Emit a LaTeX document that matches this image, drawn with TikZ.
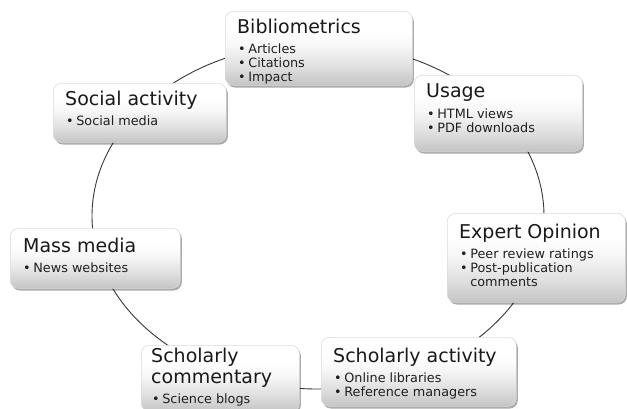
\documentclass[tikz,border=0pt]{standalone}
\usepackage{fontspec}
\setmainfont{DejaVu Sans}
\usetikzlibrary{shadows}
\pgfdeclareverticalshading{boxshade}{100bp}{color(0bp)=(black!23); color(25bp)=(black!23); color(38bp)=(black!12); color(52bp)=(black!3); color(62bp)=(white); color(100bp)=(white)}
\tikzset{
  box/.style={rectangle, rounded corners=8pt, draw=black!14, line width=0.6pt,
    shading=boxshade, inner sep=0pt, anchor=north west,
    drop shadow={shadow xshift=1.5pt, shadow yshift=-2.2pt, opacity=0.33, fill=black}},
  ttl/.style={anchor=base west, inner sep=0pt, text=black!90,
    font=\fontsize{19}{21}\selectfont},
  itm/.style={anchor=base west, inner sep=0pt, text=black!88,
    font=\fontsize{12.8}{14.3}\selectfont},
  ring/.style={draw=black!78, line width=0.9pt}
}
\newcommand{\blist}[1]{\begin{tabular}[t]{@{}l@{\hspace{2.6pt}}l@{}}#1\end{tabular}}
\begin{document}
\begin{tikzpicture}[x=1pt,y=-1pt]
\useasboundingbox (0,0) rectangle (627,408);
\coordinate (c) at (318,216);
\draw[ring] (c) ellipse [x radius=226, y radius=173];

% Bibliometrics
\node[box, minimum width=187pt, minimum height=74pt] (bib) at (225,11) {};
\node[ttl] (bibT) at (237,33) {Bibliometrics};
\node[itm] (bibL) at (238,53) {\blist{•&Articles\\•&Citations\\•&Impact}};

% Usage
\node[box, minimum width=168pt, minimum height=76pt] (use) at (414,75) {};
\node[ttl] (useT) at (426,97) {Usage};
\node[itm] (useL) at (427,118) {\blist{•&HTML views\\•&PDF downloads}};

% Expert Opinion
\node[box, minimum width=178pt, minimum height=89pt] (exp) at (447,213) {};
\node[ttl] (expT) at (459,238) {Expert Opinion};
\node[itm] (expL) at (460,258) {\blist{•&Peer review ratings\\•&Post-publication\\&comments}};

% Scholarly activity
\node[box, minimum width=195pt, minimum height=69pt] (act) at (321,337) {};
\node[ttl] (actT) at (333,362) {Scholarly activity};
\node[itm] (actL) at (334,382) {\blist{•&Online libraries\\•&Reference managers}};

% Scholarly commentary
\node[box, minimum width=158pt, minimum height=66pt] (com) at (141,345) {};
\node[ttl] (comT) at (151,362) {\begin{tabular}[t]{@{}l@{}}Scholarly\\commentary\end{tabular}};
\node[itm] (comL) at (152,403) {\blist{•&Science blogs}};

% Mass media
\node[box, minimum width=170pt, minimum height=60pt] (mass) at (10,228) {};
\node[ttl] (massT) at (23,252) {Mass media};
\node[itm] (massL) at (23,272) {\blist{•&News websites}};

% Social activity
\node[box, minimum width=173pt, minimum height=59pt] (soc) at (53,83) {};
\node[ttl] (socT) at (65,105) {Social activity};
\node[itm] (socL) at (66,125) {\blist{•&Social media}};
\end{tikzpicture}
\end{document}
